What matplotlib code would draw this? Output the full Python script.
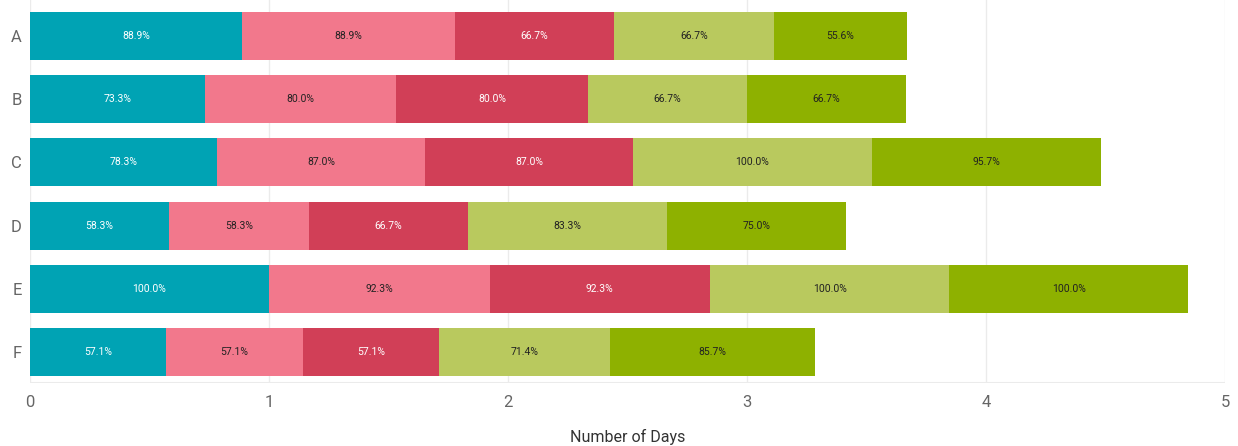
import numpy as np
import matplotlib.pyplot as plt

plt.rcParams['font.family'] = ['Roboto', 'DejaVu Sans']

# Data: completion percentage per stage, each stage drawn as value/100 days
categories = ["A", "B", "C", "D", "E", "F"]
stage1 = [88.9, 73.3, 78.3, 58.3, 100.0, 57.1]
stage2 = [88.9, 80.0, 87.0, 58.3, 92.3, 57.1]
stage3 = [66.7, 80.0, 87.0, 66.7, 92.3, 57.1]
stage4 = [66.7, 66.7, 100.0, 83.3, 100.0, 71.4]
stage5 = [55.6, 66.7, 95.7, 75.0, 100.0, 85.7]

series = [stage1, stage2, stage3, stage4, stage5]
colors = ["#00A3B4", "#F2788C", "#D13F57", "#B9C95E", "#8EB100"]
text_colors = ["white", "#222222", "white", "#222222", "#222222"]

fig = plt.figure(figsize=(12.38, 4.46), dpi=100)
ax = fig.add_axes([0.0242, 0.1413, 0.9653, 0.8587])

y = np.arange(len(categories))
left = np.zeros(len(categories))
for vals, c, tc in zip(series, colors, text_colors):
    w = np.array(vals) / 100.0
    ax.barh(y, w, left=left, height=0.76, color=c, zorder=2)
    for yi, li, wi, v in zip(y, left, w, vals):
        ax.text(li + wi / 2, yi, f"{v:.1f}%", ha="center", va="center",
                fontsize=7.5, color=tc, zorder=3)
    left = left + w

ax.set_xlim(0, 5)
ax.set_ylim(5.49, -0.57)
ax.set_yticks(y)
ax.set_yticklabels(categories)
ax.set_xticks(range(6))
ax.grid(axis="x", color="#EBEBEB", linewidth=1, zorder=0)
ax.axhline(5.49, color="#EBEBEB", linewidth=1.5, zorder=0)
for s in ax.spines.values():
    s.set_visible(False)
ax.tick_params(axis="both", length=0, labelsize=12, colors="#666666")
ax.tick_params(axis="x", pad=9)
ax.tick_params(axis="y", pad=6)
ax.set_xlabel("Number of Days", fontsize=11.5, color="#333333", labelpad=13)

fig.savefig("out.png", dpi=100)
